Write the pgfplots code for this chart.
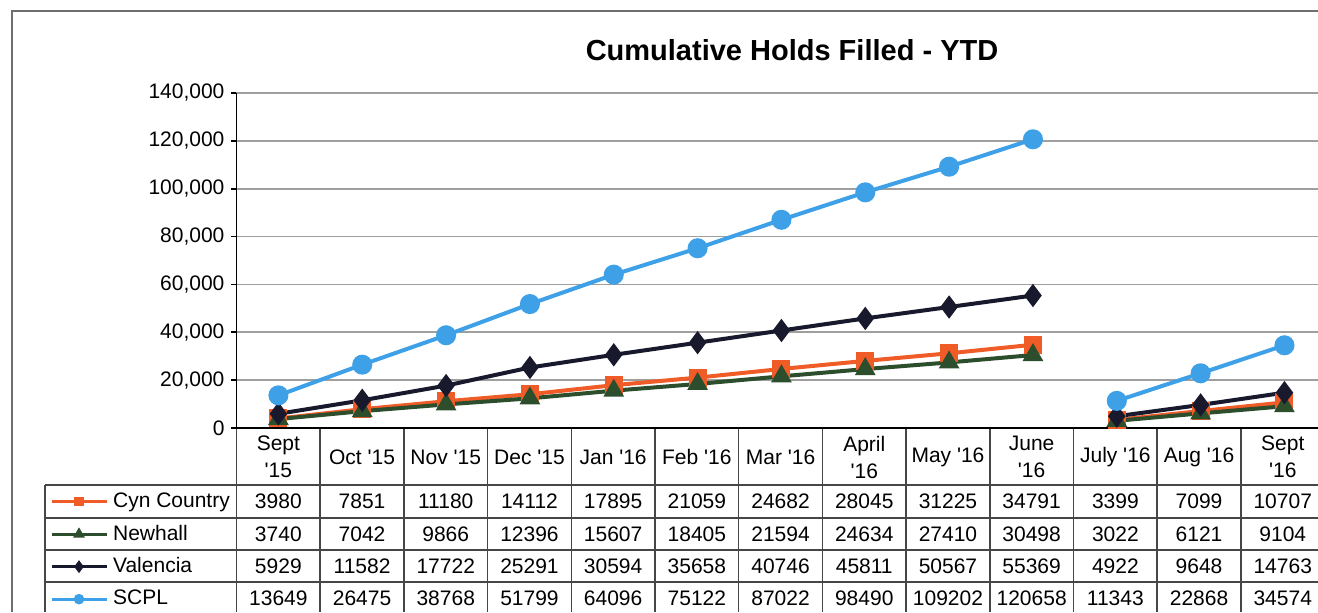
\documentclass[border=0pt]{standalone}
\usepackage{pgfplots}
\pgfplotsset{compat=1.18}
\usepackage{pgfplotstable}
\usepackage{fontspec}
\setmainfont{Liberation Sans}
\definecolor{cyn}{RGB}{240,92,40}
\definecolor{newh}{RGB}{45,78,45}
\definecolor{val}{RGB}{25,25,45}
\definecolor{scpl}{RGB}{62,160,230}
\definecolor{framec}{RGB}{110,110,110}
\definecolor{tblc}{RGB}{70,70,70}
\newcommand\q{\textquotesingle}
\newcommand\tabfont{\fontsize{10.5}{13.5}\selectfont}
\pgfplotstableread{
x cyn new val scpl
0 3980 3740 5929 13649
1 7851 7042 11582 26475
2 11180 9866 17722 38768
3 14112 12396 25291 51799
4 17895 15607 30594 64096
5 21059 18405 35658 75122
6 24682 21594 40746 87022
7 28045 24634 45811 98490
8 31225 27410 50567 109202
9 34791 30498 55369 120658
9.5 nan nan nan nan
10 3399 3022 4922 11343
11 7099 6121 9648 22868
12 10707 9104 14763 34574
}\datatable
\begin{document}
\begin{tikzpicture}
\useasboundingbox (0,0) rectangle (659pt,-306pt);
\begin{scope}[x=0.5pt,y=-0.5pt]
\draw[framec, line width=1pt] (1318,11) -- (12,11) -- (12,612);
\node[font=\bfseries\fontsize{14.5}{17}\selectfont] at (792,50) {Cumulative Holds Filled - YTD};
\def\cw{83.7}
\foreach \k in {0,...,12} \draw[tblc, line width=0.75pt] ({236.5+\cw*\k},428) -- ({236.5+\cw*\k},612);
\draw[tblc, line width=0.75pt] (45,485) -- (45,612);
\foreach \yy in {485,518,550,582} \draw[tblc, line width=0.75pt] (45,\yy) -- (1318,\yy);
\foreach \lab [count=\i from 0] in {{Sept\\\q15},{Oct \q15},{Nov \q15},{Dec \q15},{Jan \q16},{Feb \q16},{Mar \q16},{April\\\q16},{May \q16},{June\\\q16},{July \q16},{Aug \q16},{Sept\\\q16}}
  \node[align=center, font=\tabfont, inner sep=0pt] at ({236.5+\cw*(\i+0.5)},457) {\lab};
\foreach \v [count=\i from 0] in {3980,7851,11180,14112,17895,21059,24682,28045,31225,34791,3399,7099,10707}
  \node[font=\tabfont, inner sep=0pt] at ({236.5+\cw*(\i+0.5)},501.5) {\v};
\foreach \v [count=\i from 0] in {3740,7042,9866,12396,15607,18405,21594,24634,27410,30498,3022,6121,9104}
  \node[font=\tabfont, inner sep=0pt] at ({236.5+\cw*(\i+0.5)},534) {\v};
\foreach \v [count=\i from 0] in {5929,11582,17722,25291,30594,35658,40746,45811,50567,55369,4922,9648,14763}
  \node[font=\tabfont, inner sep=0pt] at ({236.5+\cw*(\i+0.5)},566) {\v};
\foreach \v [count=\i from 0] in {13649,26475,38768,51799,64096,75122,87022,98490,109202,120658,11343,22868,34574}
  \node[font=\tabfont, inner sep=0pt] at ({236.5+\cw*(\i+0.5)},598.5) {\v};
\end{scope}
\begin{axis}[
  at={(118.25pt,-214pt)}, anchor=south west,
  scale only axis, width=540.75pt, height=167.5pt,
  xmin=-0.5, xmax=12.4, ymin=0, ymax=140000,
  ytick={0,20000,40000,60000,80000,100000,120000,140000},
  yticklabels={0,{20,000},{40,000},{60,000},{80,000},{100,000},{120,000},{140,000}},
  xtick=\empty,
  axis x line*=bottom, axis y line*=left,
  axis line style={black, line width=0.9pt},
  tick align=outside, major tick length=2.5pt,
  tick style={black, line width=0.8pt},
  ymajorgrids, grid style={gray!75, line width=0.8pt},
  scaled y ticks=false,
  ticklabel style={font=\fontsize{10.5}{12}\selectfont},
  unbounded coords=jump,
  every axis plot/.append style={line width=2pt},
  legend style={at={(axis description cs:-0.1729,-0.1701)}, anchor=north west,
    draw=none, fill=none, inner sep=0pt, row sep=0pt,
    font=\fontsize{10.5}{12}\selectfont,
    nodes={inner sep=0pt, minimum height=16.25pt},
    /tikz/every odd column/.append style={column sep=2.5pt}},
  legend cell align=left,
  legend image code/.code={\draw[line width=1.6pt, mark repeat=2,mark phase=2, mark options={scale=0.45}] plot coordinates {(0pt,0pt)(13.75pt,0pt)(27.5pt,0pt)};},
]
\addplot[cyn, mark=square*, mark size=3.5pt] table[x=x,y=cyn]{\datatable};
\addlegendentry{Cyn Country}
\addplot[newh, mark=triangle*, mark size=4pt] table[x=x,y=new]{\datatable};
\addlegendentry{Newhall}
\addplot[val, mark=diamond*, mark size=4.2pt] table[x=x,y=val]{\datatable};
\addlegendentry{Valencia}
\addplot[scpl, mark=*, mark size=4pt] table[x=x,y=scpl]{\datatable};
\addlegendentry{SCPL}
\end{axis}
\end{tikzpicture}
\end{document}
